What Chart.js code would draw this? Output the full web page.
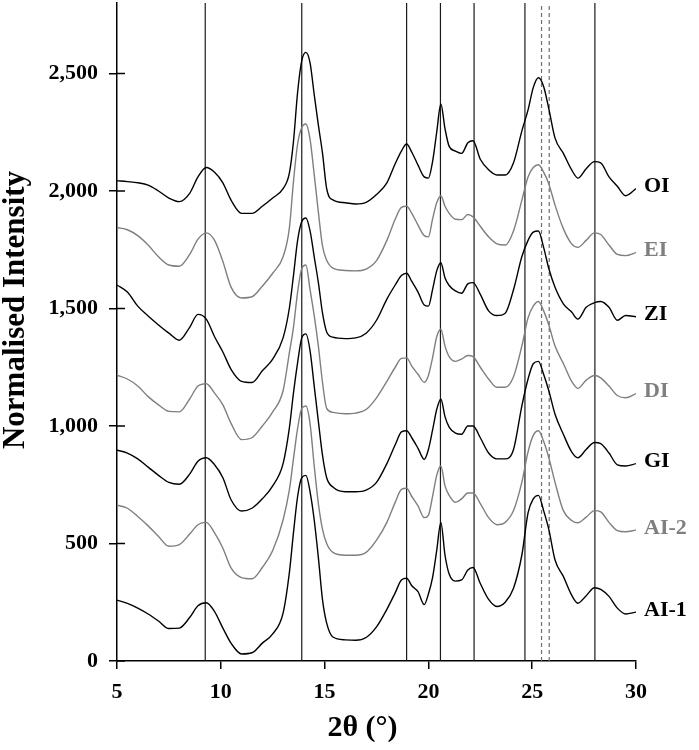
<!DOCTYPE html>
<html>
<head>
<meta charset="utf-8">
<script src="https://cdn.jsdelivr.net/npm/chart.js@4.4.1/dist/chart.umd.min.js"></script>
<style>
  html, body { margin: 0; padding: 0; background: #fff; }
  #wrap { width: 699px; height: 750px; }
</style>
</head>
<body>
<div id="wrap"><canvas id="xrdChart"></canvas></div>
<script>
// 2theta positions (deg), shared by all patterns
const twoTheta = [
  5, 5.5, 6, 6.5, 7, 7.5, 8, 8.5, 8.9, 9.3, 9.7, 10.1,
  10.5, 11, 11.5, 12, 12.5, 13, 13.3, 13.5, 13.7, 13.9, 14.1, 14.3,
  14.5, 14.7, 14.9, 15.1, 15.4, 16, 16.5, 17, 17.5, 18, 18.4, 18.7,
  18.95, 19.2, 19.5, 19.8, 20.0, 20.2, 20.4, 20.6, 20.8, 21.0, 21.3, 21.6,
  21.9, 22.15, 22.5, 22.9, 23.3, 23.7, 24.1, 24.5, 24.8, 25.05, 25.3, 25.55,
  25.8, 26.1, 26.5, 26.9, 27.2, 27.6, 28.0, 28.3, 28.7, 29.1, 29.5, 30
];

// normalised intensities (already offset as in the figure)
const intensityOI = [
  2044, 2040, 2035, 2025, 2000, 1970, 1955, 1990, 2060, 2100, 2080, 2035,
  1960, 1905, 1905, 1935, 1970, 2010, 2075, 2210, 2420, 2555, 2590, 2545,
  2410, 2280, 2160, 2010, 1962, 1950, 1945, 1952, 1985, 2035, 2116, 2170,
  2200, 2165, 2110, 2060, 2055, 2125, 2250, 2370, 2265, 2190, 2170, 2160,
  2205, 2214, 2135, 2090, 2068, 2068, 2120, 2255, 2345, 2440, 2482, 2445,
  2350, 2225, 2160, 2090, 2055, 2095, 2125, 2120, 2060, 2020, 1980, 2010
];
const intensityEI = [
  1845, 1835, 1810, 1770, 1720, 1685, 1680, 1730, 1795, 1822, 1790, 1700,
  1590, 1545, 1550, 1595, 1650, 1720, 1840, 2040, 2200, 2270, 2285, 2220,
  2070, 1910, 1765, 1705, 1672, 1662, 1660, 1668, 1704, 1790, 1880, 1930,
  1935, 1905, 1855, 1810, 1805, 1880, 1950, 1980, 1935, 1905, 1880, 1878,
  1900, 1890, 1850, 1805, 1775, 1770, 1830, 1960, 2060, 2100, 2112, 2080,
  2030, 1940, 1840, 1775, 1760, 1790, 1822, 1815, 1770, 1730, 1725, 1738
];
const intensityZI = [
  1600, 1570, 1510, 1468, 1430, 1395, 1365, 1420, 1475, 1455, 1380, 1315,
  1240, 1190, 1185, 1235, 1285, 1375, 1500, 1640, 1790, 1870, 1885, 1830,
  1720, 1610, 1480, 1400, 1378, 1372, 1375, 1395, 1450, 1540, 1600, 1640,
  1650, 1615, 1570, 1515, 1510, 1580, 1660, 1695, 1630, 1598, 1575, 1565,
  1605, 1610, 1560, 1490, 1470, 1480, 1580, 1720, 1790, 1825, 1830, 1760,
  1670, 1590, 1520, 1485, 1455, 1505, 1525, 1530, 1505, 1450, 1470, 1465
];
const intensityDI = [
  1216, 1200, 1170, 1125, 1090, 1062, 1060, 1115, 1170, 1180, 1140, 1090,
  1010, 942, 950, 1000, 1060, 1150, 1310, 1420, 1570, 1670, 1685, 1580,
  1470, 1340, 1185, 1075, 1058, 1052, 1055, 1070, 1120, 1190, 1250, 1288,
  1290, 1255, 1220, 1186, 1215, 1290, 1380, 1412, 1340, 1295, 1275, 1285,
  1300, 1295, 1250, 1200, 1165, 1165, 1210, 1340, 1460, 1510, 1530, 1490,
  1430, 1340, 1266, 1190, 1160, 1195, 1215, 1205, 1170, 1130, 1120, 1138
];
const intensityGI = [
  897, 885, 860, 825, 790, 760, 752, 795, 850, 865, 835, 780,
  685, 638, 650, 690, 745, 840, 990, 1140, 1270, 1375, 1392, 1320,
  1170, 1020, 875, 780, 740, 720, 720, 727, 760, 840, 920, 975,
  980, 950, 905, 858, 900, 982, 1070, 1115, 1040, 995, 970, 965,
  1000, 1000, 950, 885, 860, 860, 900, 1085, 1200, 1265, 1275, 1220,
  1150, 1050, 965, 890, 865, 900, 930, 925, 885, 835, 830, 840
];
const intensityAI2 = [
  663, 650, 615, 575, 530, 488, 495, 540, 580, 590, 545, 480,
  395, 355, 350, 398, 470, 600, 727, 860, 990, 1075, 1085, 1010,
  830, 670, 560, 500, 462, 450, 450, 462, 514, 590, 675, 730,
  735, 700, 660, 610, 620, 700, 790, 830, 745, 705, 675, 690,
  715, 715, 670, 610, 580, 590, 640, 760, 890, 960, 980, 935,
  865, 760, 640, 598, 588, 612, 640, 635, 590, 555, 550, 557
];
const intensityAI1 = [
  259, 245, 225, 200, 170, 138, 140, 185, 235, 248, 210, 140,
  75, 30, 35, 76, 115, 204, 374, 545, 700, 780, 790, 720,
  600, 440, 260, 161, 102, 90, 88, 100, 145, 220, 290, 345,
  352, 320, 295, 240, 285, 355, 470, 590, 450, 370, 340, 345,
  387, 398, 330, 262, 232, 250, 310, 450, 630, 690, 705, 640,
  560, 430, 360, 280, 246, 278, 312, 305, 275, 225, 200, 208
];

const xTicks = [5, 10, 15, 20, 25, 30];
const yTicks = [0, 500, 1000, 1500, 2000, 2500];
const peakLines = [9.25, 13.9, 18.95, 20.58, 22.2, 24.65, 28.02];
const dashedLines = [25.45, 25.82];

const Y_MIN = 0, Y_MAX = 2800;
const BLACK = '#000000';
const GREY = '#7f7f7f';
const FONT = "'Liberation Serif', 'Times New Roman', serif";

const seriesList = [
  { name: 'OI', values: intensityOI, color: BLACK },
  { name: 'EI', values: intensityEI, color: GREY },
  { name: 'ZI', values: intensityZI, color: BLACK },
  { name: 'DI', values: intensityDI, color: GREY },
  { name: 'GI', values: intensityGI, color: BLACK },
  { name: 'AI-2', values: intensityAI2, color: GREY },
  { name: 'AI-1', values: intensityAI1, color: BLACK }
];

const patternSets = seriesList.map(s => ({
  label: s.name,
  data: twoTheta.map((x, i) => ({ x: x, y: s.values[i] })),
  borderColor: s.color,
  borderWidth: 1.4,
  pointRadius: 0,
  cubicInterpolationMode: 'monotone',
  fill: false
}));

const lineSets = peakLines.map(x => ({
  label: 'line',
  data: [{ x: x, y: Y_MIN }, { x: x, y: Y_MAX }],
  borderColor: '#1a1a1a',
  borderWidth: 1.2,
  pointRadius: 0
})).concat(dashedLines.map(x => ({
  label: 'dash',
  data: [{ x: x, y: Y_MIN }, { x: x, y: Y_MAX }],
  borderColor: '#6f6f6f',
  borderWidth: 1.2,
  borderDash: [4, 3],
  pointRadius: 0
})));

// sample names at the right end of every pattern, plus axis titles and inner y ticks
const decorPlugin = {
  id: 'decor',
  afterDatasetsDraw(chart) {
    const ctx = chart.ctx;
    const area = chart.chartArea;
    ctx.save();
    ctx.font = 'bold 22px ' + FONT;
    ctx.textAlign = 'left';
    ctx.textBaseline = 'middle';
    seriesList.forEach((s, i) => {
      const pts = chart.getDatasetMeta(i).data;
      const last = pts[pts.length - 1];
      ctx.fillStyle = s.color;
      ctx.fillText(s.name, area.right + 8, last.y - 2);
    });
    ctx.restore();
  },
  afterDraw(chart) {
    const ctx = chart.ctx;
    const area = chart.chartArea;
    const yScale = chart.scales.y;
    ctx.save();
    ctx.strokeStyle = BLACK;
    ctx.lineWidth = 1.5;
    yTicks.forEach(v => {
      const py = yScale.getPixelForValue(v);
      ctx.beginPath();
      ctx.moveTo(area.left, py);
      ctx.lineTo(area.left + 8, py);
      ctx.stroke();
    });
    ctx.fillStyle = BLACK;
    ctx.textAlign = 'center';
    ctx.textBaseline = 'middle';
    ctx.font = 'bold 30px ' + FONT;
    ctx.fillText('2θ (°)', (area.left + area.right) / 2 - 14, area.bottom + 67);
    ctx.translate(16, (area.top + area.bottom) / 2 - 22);
    ctx.rotate(-Math.PI / 2);
    ctx.font = 'bold 31px ' + FONT;
    ctx.fillText('Normalised Intensity', 0, 0);
    ctx.restore();
  }
};

new Chart(document.getElementById('xrdChart'), {
  type: 'line',
  data: { datasets: patternSets.concat(lineSets) },
  options: {
    responsive: true,
    maintainAspectRatio: false,
    animation: false,
    layout: { padding: { top: 3, right: 63, left: 0, bottom: 0 } },
    plugins: {
      legend: { display: false },
      tooltip: { enabled: false }
    },
    scales: {
      x: {
        type: 'linear',
        min: 5,
        max: 30,
        afterBuildTicks: s => { s.ticks = xTicks.map(v => ({ value: v })); },
        afterFit: s => { s.height = 89; s.paddingLeft = 0; s.paddingRight = 0; },
        grid: { drawOnChartArea: false, tickLength: 8, color: BLACK, lineWidth: 1.5 },
        border: { display: true, color: BLACK, width: 1.5 },
        ticks: {
          color: BLACK,
          padding: 10,
          maxRotation: 0,
          font: { family: FONT, size: 22, weight: 'bold' }
        }
      },
      y: {
        min: Y_MIN,
        max: Y_MAX,
        afterBuildTicks: s => { s.ticks = yTicks.map(v => ({ value: v })); },
        afterFit: s => { s.width = 117; s.paddingTop = 0; s.paddingBottom = 0; },
        grid: { drawOnChartArea: false, tickLength: 8, color: BLACK, lineWidth: 1.5 },
        border: { display: true, color: BLACK, width: 1.5 },
        ticks: {
          color: BLACK,
          padding: 11,
          callback: v => v.toLocaleString('en-US'),
          font: { family: FONT, size: 22, weight: 'bold' }
        }
      }
    }
  },
  plugins: [decorPlugin]
});
</script>
</body>
</html>
